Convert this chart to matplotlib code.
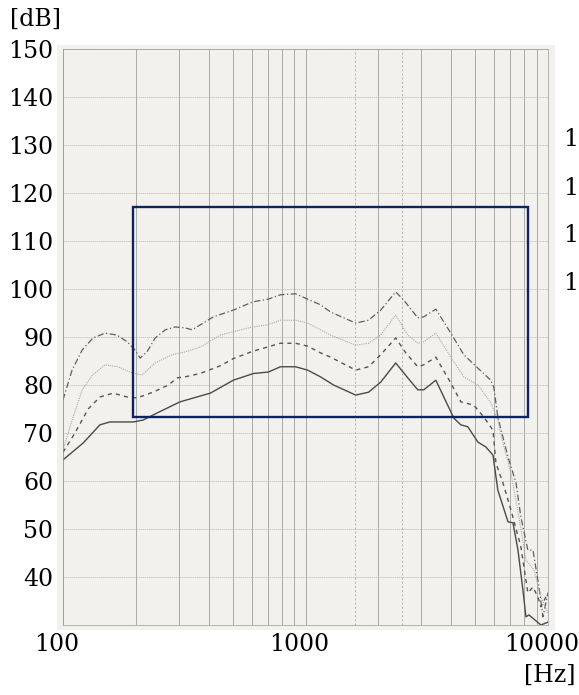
import numpy as np
import matplotlib.pyplot as plt
from matplotlib.patches import Rectangle
from matplotlib.transforms import ScaledTranslation

plt.rcParams['font.family'] = 'DejaVu Serif'

# curves: frequency [Hz] and level [dB]
dashdot_hz = [100, 109, 120, 133, 149, 167, 184, 198, 208, 222, 240, 264, 290, 319, 341,
              417, 504, 604, 703, 788, 910, 1020, 1153, 1269, 1610, 1820, 2042, 2355, 2541,
              2904, 3073, 3447, 3975, 4497, 5140, 5810, 5984, 6210, 6840, 7380, 7730, 8260,
              8670, 9180, 9530, 10000]
dashdot_db = [76.9, 83.1, 87.3, 89.8, 90.8, 90.4, 89.0, 87.3, 85.6, 86.9, 89.8, 91.5, 92.1,
              91.9, 91.5, 94.2, 95.6, 97.3, 97.9, 98.8, 99.0, 97.9, 96.7, 95.2, 92.9, 93.5,
              95.6, 99.4, 97.7, 94.0, 94.2, 95.8, 90.8, 86.3, 83.5, 81.0, 79.4, 73.3, 65.0,
              59.6, 52.5, 45.6, 45.6, 37.9, 31.7, 36.7]

dotted_hz = [100, 110, 120, 132, 149, 169, 193, 212, 240, 282, 319, 368, 445, 604, 696, 788,
             910, 1020, 1153, 1269, 1610, 1820, 2042, 2355, 2640, 2904, 3073, 3447, 3975,
             4497, 5140, 5810, 6210, 6520, 7030, 7590, 8110, 8750, 9350, 10000]
dotted_db = [66.5, 73.3, 79.0, 82.0, 84.2, 83.8, 82.5, 82.1, 84.6, 86.3, 86.9, 87.9, 90.4,
             92.1, 92.5, 93.5, 93.5, 92.9, 91.5, 90.4, 88.3, 88.7, 90.4, 94.6, 90.4, 88.7,
             89.0, 90.8, 85.8, 81.7, 80.0, 76.3, 72.7, 67.9, 61.7, 52.5, 43.5, 41.5, 35.8,
             32.5]

dashed_hz = [100, 112, 127, 142, 161, 184, 202, 235, 272, 296, 319, 368, 445, 504, 604, 696,
             788, 910, 1020, 1153, 1269, 1610, 1820, 2042, 2355, 2590, 2904, 3073, 3447,
             3975, 4370, 4945, 5440, 5930, 6100, 6520, 7030, 7730, 8260, 8670, 9090, 9350,
             10000]
dashed_db = [66.0, 70.0, 75.0, 77.5, 78.3, 77.5, 77.3, 78.5, 80.0, 81.5, 81.7, 82.4, 84.0,
             85.5, 87.0, 87.9, 88.7, 88.7, 88.1, 86.7, 85.8, 83.1, 83.8, 86.3, 89.8, 86.7,
             83.8, 84.2, 85.8, 80.4, 76.5, 75.8, 73.3, 70.6, 63.7, 59.6, 54.0, 46.3, 36.7,
             37.9, 35.8, 33.8, 36.7]

solid_hz = [100, 121, 142, 156, 195, 214, 245, 304, 405, 504, 610, 703, 788, 910, 1020, 1153,
            1305, 1610, 1820, 2042, 2355, 2640, 2904, 3073, 3447, 4090, 4370, 4670, 5140,
            5540, 5930, 6210, 6840, 7170, 7520, 7880, 8110, 8340, 9350, 10000]
solid_db = [64.4, 67.9, 71.7, 72.3, 72.3, 72.7, 74.2, 76.5, 78.3, 81.0, 82.4, 82.7, 83.8,
            83.8, 83.1, 81.7, 80.0, 77.9, 78.5, 80.6, 84.6, 81.5, 79.0, 79.0, 81.0, 73.1,
            71.7, 71.3, 68.1, 67.1, 65.4, 58.1, 51.5, 51.3, 45.6, 37.3, 31.7, 32.1, 30.0,
            30.6]

# highlighted region
box_hz = (195, 8270)
box_db = (73.3, 117.0)

y_ticks = [40, 50, 60, 70, 80, 90, 100, 110, 120, 130, 140, 150]
x_ticks = [100, 1000, 10000]
dashed_grid_hz = [1600, 2500]
# what is left visible of a neighbouring axis' labels at the right edge
cut_labels = ['1', '1', '1', '1']

paper = '#f3f1ed'
W, H = 579, 695

fig = plt.figure(figsize=(W / 100, H / 100), dpi=100)
fig.patches.append(Rectangle((57 / W, 1 - 630 / H), 498 / W, 585 / H,
                             transform=fig.transFigure, facecolor=paper,
                             edgecolor='none', zorder=-1))

ax = fig.add_axes([63 / W, 1 - 625 / H, 485 / W, 576 / H])
ax.set_zorder(1)
ax.set_facecolor(paper)
ax.set_xscale('log')
ax.set_xlim(100, 10000)
ax.set_ylim(30, 150)

ax.set_xticks(x_ticks)
ax.set_xticklabels([str(t) for t in x_ticks])
ax.set_yticks(y_ticks)
ax.set_yticklabels([str(t) for t in y_ticks])
ax.tick_params(axis='both', which='both', length=0, labelsize=17)
ax.tick_params(axis='y', pad=7)
ax.tick_params(axis='x', pad=6)
shift = ScaledTranslation(-0.065, 0, fig.dpi_scale_trans)
for lab in ax.get_xticklabels():
    lab.set_transform(lab.get_transform() + shift)

ax.grid(True, which='both', axis='x', color='#8e8e8e', lw=0.5)
ax.grid(True, which='major', axis='y', color='#b4b4b4', lw=0.5, ls=(0, (2, 1)))
for f in dashed_grid_hz:
    ax.axvline(f, color='#999999', lw=0.5, ls=(0, (3, 3)))
for s in ax.spines.values():
    s.set_color('#9a9a9a')
    s.set_linewidth(0.5)

ax.plot(dashdot_hz, dashdot_db, color='#5f5f5f', lw=0.9, ls=(0, (5, 2, 1, 2)))
ax.plot(dotted_hz, dotted_db, color='#a8a8a8', lw=0.8, ls=(0, (1, 1)))
ax.plot(dashed_hz, dashed_db, color='#555555', lw=1.0, ls=(0, (3, 3)))
ax.plot(solid_hz, solid_db, color='#4a4a4a', lw=1.0)

ax.add_patch(Rectangle((box_hz[0], box_db[0]), box_hz[1] - box_hz[0], box_db[1] - box_db[0],
                       fill=False, edgecolor='#0c2461', lw=1.7, zorder=5))

fig.text(36 / W, 1 - 19 / H, '[dB]', ha='center', va='center', fontsize=17)
fig.text(550 / W, 1 - 675 / H, '[Hz]', ha='center', va='center', fontsize=17)
for lab, ypx in zip(cut_labels, [140, 188, 235, 283]):
    fig.text(578 / W, 1 - ypx / H, lab, ha='right', va='center', fontsize=17)

fig.savefig('out.png', dpi=100)
